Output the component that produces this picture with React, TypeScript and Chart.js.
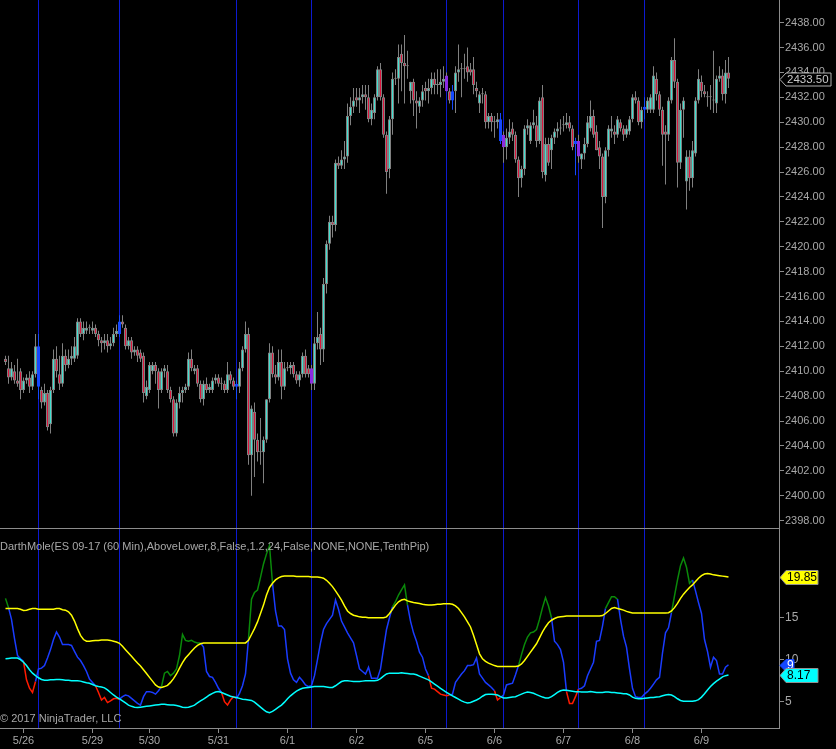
import React, { useEffect, useRef } from 'react';
import { Chart, registerables } from 'chart.js';
Chart.register(...registerables);

// ---------- data ----------
const openP = [
2411.0,2410.25,2409.5,2410.0,2409.25,2410.0,2408.5,2409.25,2409.5,2408.75,
2409.75,2412.0,2408.5,2407.5,2408.25,2405.75,2408.5,2411.0,2409.75,2409.0,
2411.25,2410.5,2411.0,2411.0,2411.25,2414.0,2413.0,2413.25,2413.5,2413.25,
2413.5,2413.0,2412.5,2412.25,2412.5,2412.0,2412.25,2413.0,2413.0,2414.0,
2413.5,2412.0,2412.5,2411.5,2411.75,2411.5,2411.25,2408.0,2408.5,2410.0,
2410.5,2410.0,2408.5,2410.0,2410.0,2408.5,2407.75,2405.0,2407.5,2408.25,
2408.5,2408.75,2411.0,2410.0,2410.25,2409.0,2407.75,2409.0,2408.5,2408.5,
2409.25,2409.5,2409.0,2409.0,2408.5,2409.75,2409.25,2408.75,2408.75,2410.25,
2411.75,2413.0,2403.25,2406.75,2404.5,2403.5,2403.5,2404.5,2407.75,2411.5,
2409.75,2409.5,2410.75,2408.75,2410.25,2410.25,2410.5,2409.75,2409.25,2409.75,
2411.25,2410.25,2410.25,2409.0,2412.25,2413.0,2411.75,2417.0,2420.25,2422.0,
2421.75,2426.75,2426.5,2427.0,2427.25,2430.5,2431.25,2432.0,2431.75,2432.0,
2432.25,2432.0,2430.25,2430.75,2432.0,2434.25,2432.0,2429.0,2426.25,2430.25,
2433.5,2433.5,2435.5,2434.75,2434.5,2432.5,2433.25,2431.75,2431.25,2431.75,
2432.75,2432.5,2432.75,2433.5,2433.0,2433.0,2433.25,2433.75,2432.5,2431.75,
2432.5,2434.0,2434.25,2434.25,2434.5,2434.25,2434.25,2432.75,2431.5,2432.25,
2432.25,2430.0,2430.5,2430.0,2430.0,2430.25,2429.0,2428.0,2428.75,2429.5,
2429.0,2427.0,2425.5,2426.25,2429.5,2428.5,2429.75,2429.75,2428.5,2432.0,
2425.75,2428.25,2427.75,2428.75,2429.25,2429.5,2429.75,2429.75,2430.0,2429.5,
2428.25,2428.5,2427.0,2427.5,2428.25,2429.5,2430.5,2429.25,2428.0,2427.25,
2424.0,2427.75,2429.25,2429.25,2429.0,2430.0,2429.5,2429.0,2429.25,2430.25,
2432.0,2431.75,2430.0,2431.0,2431.0,2431.0,2431.0,2433.5,2432.25,2431.0,
2429.25,2429.0,2431.75,2435.0,2433.25,2426.75,2431.0,2425.25,2427.25,2425.5,
2427.5,2431.75,2433.25,2432.5,2432.0,2432.0,2431.75,2431.5,2433.5,2433.75,
2432.25,2434.0
];
const highP = [
2411.25,2411.25,2410.75,2410.5,2411.0,2410.25,2409.5,2409.75,2410.0,2410.0,
2413.0,2413.0,2408.75,2409.0,2408.5,2408.75,2411.75,2412.0,2411.25,2412.25,
2411.75,2411.75,2412.0,2412.75,2414.25,2414.25,2414.0,2414.0,2413.75,2414.0,
2413.75,2413.25,2412.75,2413.0,2413.0,2412.75,2413.5,2413.75,2414.5,2414.5,
2413.75,2412.75,2412.75,2412.0,2412.0,2411.75,2411.5,2409.25,2410.75,2410.75,
2410.75,2410.25,2410.25,2410.5,2410.5,2408.75,2408.0,2407.75,2408.75,2408.75,
2409.0,2411.5,2411.75,2410.5,2410.5,2409.25,2409.25,2409.5,2409.0,2409.5,
2409.75,2409.75,2409.5,2409.25,2410.75,2410.0,2409.5,2409.25,2410.75,2412.0,
2414.0,2413.5,2407.25,2407.5,2405.0,2406.25,2404.75,2407.75,2412.25,2412.0,
2410.5,2411.75,2411.75,2410.75,2410.75,2410.75,2410.75,2410.0,2410.0,2411.5,
2411.75,2410.5,2410.5,2412.75,2414.75,2413.5,2417.5,2420.5,2422.5,2422.5,
2427.0,2427.25,2427.75,2428.5,2431.5,2432.0,2432.75,2432.75,2432.75,2433.0,
2433.0,2433.0,2431.5,2432.25,2434.5,2434.75,2432.25,2429.25,2430.5,2434.0,
2434.25,2436.25,2436.25,2437.0,2435.75,2433.25,2433.5,2432.5,2432.0,2433.0,
2433.25,2433.5,2434.0,2434.0,2434.25,2434.25,2434.5,2434.0,2432.75,2433.0,
2434.5,2436.25,2434.75,2435.5,2436.0,2434.75,2435.25,2433.25,2432.5,2432.75,
2432.5,2430.75,2430.75,2430.5,2430.75,2430.75,2429.25,2429.5,2430.25,2430.0,
2429.25,2427.25,2426.5,2429.75,2430.25,2430.0,2431.0,2430.5,2432.0,2433.0,
2428.75,2428.75,2429.0,2429.5,2430.0,2430.25,2430.5,2430.75,2430.5,2429.75,
2428.75,2429.0,2427.5,2428.75,2430.5,2431.75,2431.0,2429.75,2428.5,2427.5,
2428.0,2429.75,2430.5,2429.75,2430.5,2430.25,2429.75,2429.75,2430.5,2432.25,
2432.5,2432.0,2431.25,2432.0,2432.0,2432.25,2434.5,2434.0,2432.5,2431.25,
2429.75,2432.0,2435.25,2436.75,2433.5,2431.5,2432.0,2427.75,2427.75,2428.5,
2432.0,2434.25,2433.75,2433.0,2432.5,2433.0,2435.75,2433.75,2434.5,2434.25,
2435.0,2435.25
];
const lowP = [
2410.5,2409.0,2409.25,2409.0,2408.75,2407.75,2408.25,2409.0,2408.25,2408.5,
2409.5,2407.75,2407.0,2407.25,2405.25,2405.0,2408.25,2409.5,2408.5,2408.75,
2410.0,2410.25,2410.5,2410.75,2411.0,2412.75,2412.5,2413.0,2413.0,2413.0,
2412.75,2412.0,2411.5,2411.75,2411.5,2411.75,2412.0,2412.75,2412.75,2413.5,
2411.75,2411.75,2411.0,2411.25,2410.75,2410.75,2407.5,2407.75,2408.25,2409.75,
2409.0,2407.0,2408.25,2409.5,2408.25,2407.5,2404.75,2404.75,2407.0,2407.5,
2408.25,2408.5,2410.0,2409.75,2408.75,2407.5,2407.25,2408.25,2408.25,2408.25,
2409.0,2408.75,2408.5,2408.25,2408.25,2409.0,2408.5,2407.75,2408.25,2410.0,
2411.5,2402.5,2400.0,2401.5,2402.75,2402.5,2401.0,2404.25,2407.5,2409.5,
2409.0,2409.25,2407.75,2408.5,2410.0,2409.75,2409.5,2409.0,2408.75,2409.5,
2409.5,2409.5,2408.5,2408.5,2411.75,2410.5,2410.75,2416.25,2419.75,2420.75,
2421.25,2426.25,2426.25,2426.25,2426.75,2429.75,2430.75,2431.25,2430.75,2431.5,
2431.0,2430.0,2429.75,2430.25,2431.75,2431.75,2428.75,2424.25,2425.5,2429.0,
2433.0,2431.5,2432.5,2431.5,2433.5,2431.5,2430.5,2429.5,2430.75,2431.25,
2431.75,2431.5,2432.25,2432.25,2432.25,2432.0,2432.75,2432.5,2431.5,2431.0,
2430.75,2433.25,2432.0,2433.5,2433.25,2433.75,2432.25,2432.0,2430.75,2431.5,
2429.5,2429.5,2429.25,2428.75,2429.5,2428.25,2426.75,2427.0,2428.25,2428.5,
2426.75,2424.0,2424.75,2425.75,2429.0,2428.25,2429.5,2428.0,2428.25,2425.5,
2425.25,2426.5,2426.25,2428.25,2428.75,2429.0,2429.25,2429.5,2429.25,2427.75,
2425.75,2426.75,2426.25,2427.0,2428.0,2429.25,2428.75,2427.75,2426.25,2421.5,
2423.5,2427.25,2428.75,2428.25,2428.75,2429.25,2428.5,2428.75,2429.0,2430.0,
2431.5,2429.75,2429.5,2430.25,2430.75,2430.75,2430.75,2431.75,2430.5,2426.5,
2425.0,2428.5,2431.5,2432.75,2424.75,2426.25,2428.75,2423.0,2424.5,2424.75,
2427.25,2431.5,2432.0,2432.0,2431.25,2431.0,2430.75,2430.75,2433.25,2431.75,
2431.5,2432.75
];
const closeP = [
2410.75,2409.5,2410.25,2409.25,2409.0,2408.5,2409.25,2409.5,2408.75,2409.75,
2412.0,2408.75,2407.5,2408.25,2405.5,2408.5,2411.0,2410.0,2409.0,2411.25,
2410.5,2411.0,2411.25,2412.0,2414.0,2413.0,2413.5,2413.5,2413.5,2413.5,
2413.0,2412.5,2412.25,2412.5,2412.0,2412.25,2413.0,2413.25,2414.0,2413.75,
2412.0,2412.5,2411.5,2411.75,2411.25,2411.0,2408.25,2408.75,2410.5,2410.5,
2410.0,2408.5,2410.0,2410.25,2408.5,2407.75,2405.0,2407.5,2408.25,2408.5,
2408.75,2411.0,2410.25,2410.25,2409.0,2407.75,2409.0,2408.5,2408.75,2409.25,
2409.5,2409.0,2409.0,2408.5,2409.75,2409.25,2408.75,2409.0,2410.25,2411.75,
2413.0,2403.25,2407.0,2404.5,2403.5,2403.5,2404.5,2407.75,2411.5,2409.75,
2409.5,2410.75,2408.75,2410.25,2410.25,2410.5,2409.75,2409.25,2409.75,2411.25,
2409.75,2409.75,2409.0,2412.25,2412.75,2411.75,2417.0,2420.25,2422.0,2421.75,
2426.75,2426.5,2427.0,2427.25,2430.5,2431.25,2431.75,2431.75,2432.0,2432.25,
2432.0,2430.25,2431.0,2432.0,2434.25,2432.0,2429.0,2426.0,2430.25,2433.5,
2433.5,2435.25,2434.75,2434.5,2434.5,2433.25,2431.75,2431.5,2431.75,2432.5,
2432.5,2432.75,2433.5,2433.0,2433.0,2433.25,2433.5,2432.5,2431.75,2432.5,
2434.0,2434.25,2434.25,2434.25,2434.0,2434.0,2433.0,2432.5,2432.25,2432.25,
2430.0,2430.5,2430.0,2430.0,2430.25,2428.5,2428.0,2428.75,2429.25,2429.0,
2427.0,2425.5,2426.25,2429.5,2429.75,2429.75,2430.0,2428.5,2431.75,2426.0,
2428.25,2426.75,2428.75,2429.25,2429.5,2429.5,2429.75,2430.0,2429.5,2428.0,
2428.5,2427.25,2427.5,2428.25,2430.0,2430.5,2429.0,2427.75,2427.25,2424.0,
2427.75,2429.5,2429.5,2429.0,2430.25,2429.5,2429.0,2429.5,2430.25,2432.0,
2431.75,2430.0,2431.0,2431.25,2431.75,2432.0,2433.75,2432.25,2431.0,2429.0,
2429.0,2431.75,2435.0,2433.25,2426.75,2431.0,2431.75,2427.25,2425.5,2427.75,
2431.75,2433.5,2432.5,2432.25,2432.0,2432.0,2431.75,2433.5,2433.75,2432.25,
2434.0,2433.5
];
const blueBars = [11, 38, 77, 149, 165, 190, 213];
const purpleBars = [102, 147, 166, 191];
const signalLines = [11, 38, 77, 102, 147, 166, 191, 213];

const dayStarts = [6, 29, 48, 71, 94, 117, 140, 163, 186, 209, 232];
const dayLabels = ['5/26', '5/29', '5/30', '5/31', '6/1', '6/2', '6/5', '6/6', '6/7', '6/8', '6/9'];
const priceTicks = [2398, 2400, 2402, 2404, 2406, 2408, 2410, 2412, 2414, 2416, 2418, 2420, 2422, 2424, 2426, 2428, 2430, 2432, 2434, 2436, 2438];
const indTicks = [5, 10, 15];

const upperBand = [
16.1,16.1,16.1,16.1,16.1,16.0,15.85,15.9,16.0,16.1,
16.1,16.0,16.0,16.0,16.0,16.0,16.0,16.1,16.1,15.95,
15.9,15.7,15.3,14.6,13.7,12.9,12.4,12.2,12.2,12.25,
12.3,12.3,12.35,12.35,12.35,12.3,12.2,12.1,11.95,11.6,
11.2,10.8,10.4,10.0,9.6,9.25,8.8,8.35,7.9,7.45,
7.0,6.75,6.7,6.8,6.95,7.3,7.75,8.3,9.0,9.65,
10.2,10.6,11.0,11.4,11.7,11.9,12.0,12.0,12.0,12.0,
12.0,12.0,12.0,12.0,12.0,12.0,12.0,12.0,12.0,12.0,
12.0,12.3,13.0,13.7,14.5,15.5,16.5,17.7,18.6,19.1,
19.5,19.75,19.9,19.95,19.95,19.95,19.95,19.9,19.9,19.9,
19.9,19.9,19.85,19.85,19.85,19.8,19.7,19.45,19.1,18.7,
18.2,17.65,17.1,16.4,15.8,15.5,15.3,15.2,15.1,15.05,
15.05,15.0,15.0,15.0,15.0,15.0,15.0,15.1,15.5,16.0,
16.5,16.9,17.1,17.2,17.0,16.9,16.8,16.75,16.7,16.6,
16.55,16.5,16.5,16.55,16.6,16.6,16.65,16.65,16.65,16.6,
16.4,16.1,15.6,15.1,14.5,13.9,12.9,11.8,10.7,10.1,
9.8,9.6,9.45,9.3,9.2,9.2,9.2,9.2,9.2,9.2,
9.2,9.25,9.5,9.9,10.4,10.9,11.4,11.9,12.6,13.3,
13.9,14.4,14.7,14.9,15.05,15.1,15.15,15.2,15.2,15.2,
15.2,15.2,15.2,15.2,15.2,15.2,15.2,15.2,15.2,15.25,
15.5,15.8,16.1,16.2,16.1,16.0,15.9,15.75,15.65,15.55,
15.55,15.55,15.55,15.55,15.55,15.55,15.55,15.55,15.55,15.55,
15.55,15.6,15.8,16.2,16.7,17.3,17.8,18.2,18.6,18.9,
19.3,19.7,20.0,20.2,20.25,20.2,20.1,20.05,20.0,19.95,
19.9,19.85
];
const lowerBand = [
10.1,10.15,10.2,10.2,10.2,10.0,9.7,9.3,8.8,8.4,
8.1,7.85,7.65,7.55,7.55,7.6,7.6,7.65,7.65,7.6,
7.55,7.55,7.5,7.5,7.5,7.45,7.35,7.25,7.2,7.05,
6.9,6.8,6.75,6.65,6.4,6.1,5.8,5.55,5.35,5.1,
4.85,4.6,4.45,4.35,4.3,4.35,4.4,4.45,4.5,4.55,
4.6,4.65,4.7,4.7,4.65,4.6,4.6,4.55,4.45,4.35,
4.3,4.35,4.45,4.6,4.85,5.1,5.3,5.55,5.8,6.0,
6.15,6.2,6.1,5.95,5.8,5.65,5.55,5.5,5.4,5.3,
5.25,5.2,5.15,4.95,4.65,4.35,4.05,3.8,3.7,3.85,
4.1,4.35,4.6,4.95,5.35,5.7,6.0,6.25,6.45,6.6,
6.65,6.7,6.75,6.8,6.8,6.8,6.8,6.75,6.7,6.7,
6.9,7.15,7.4,7.5,7.5,7.45,7.4,7.4,7.4,7.45,
7.5,7.5,7.5,7.5,7.55,7.75,8.05,8.3,8.4,8.4,
8.4,8.4,8.45,8.4,8.35,8.3,8.3,8.2,8.05,7.9,
7.75,7.6,7.35,7.1,6.85,6.6,6.35,6.1,5.9,5.7,
5.5,5.3,5.1,4.95,4.85,4.9,5.05,5.2,5.4,5.65,
5.85,5.9,5.9,5.85,5.8,5.6,5.45,5.45,5.5,5.55,
5.6,5.75,5.9,6.05,6.15,6.1,6.0,5.85,5.7,5.55,
5.45,5.45,5.6,5.85,6.1,6.3,6.4,6.35,6.3,6.25,
6.2,6.2,6.15,6.15,6.15,6.2,6.15,6.1,6.1,6.1,
6.15,6.15,6.1,6.1,6.05,6.0,5.95,5.95,5.8,5.55,
5.4,5.35,5.35,5.4,5.45,5.5,5.5,5.55,5.6,5.7,
5.8,5.85,5.8,5.6,5.35,5.15,5.05,5.05,5.05,5.05,
5.1,5.25,5.55,5.95,6.4,6.8,7.15,7.45,7.7,7.95,
8.1,8.17
];
const moleLine = [
17.3,16.2,14.8,12.5,10.5,10.1,9.8,7.6,6.6,6.1,
7.4,8.9,9.0,9.3,10.2,11.2,12.4,13.3,12.7,11.8,
11.8,11.8,11.7,11.0,10.3,9.9,9.3,8.6,7.7,7.3,
6.9,6.1,5.2,5.5,4.9,5.1,5.35,5.4,5.3,5.6,
5.8,5.7,5.4,5.1,4.8,4.6,5.6,6.2,6.2,6.1,
5.9,6.3,6.8,8.4,8.6,8.1,8.4,8.9,10.5,13.0,
12.3,12.2,12.3,12.1,12.0,12.0,11.5,8.6,8.0,7.9,
7.3,6.6,6.1,5.0,4.6,5.2,5.6,5.4,6.0,6.9,
8.3,12.5,17.2,18.0,18.3,19.8,21.4,22.6,23.6,19.1,
15.8,14.0,14.0,13.6,10.1,8.4,7.6,7.3,7.9,7.5,
7.0,6.8,6.9,8.1,10.0,12.0,13.6,14.3,14.8,15.3,
17.1,16.0,14.6,13.9,13.2,12.6,12.0,10.5,8.9,8.6,
8.3,9.1,7.8,7.8,7.8,8.9,11.3,13.6,15.0,16.3,
16.9,17.7,18.3,18.9,16.5,14.6,13.2,12.2,10.9,10.3,
8.9,8.1,6.6,6.5,6.2,5.9,5.8,5.7,5.8,5.9,
7.3,7.8,8.3,8.7,9.3,9.3,9.4,10.2,8.3,7.8,
7.3,7.0,6.7,6.3,5.2,5.5,5.8,7.0,7.1,7.2,
8.2,9.3,10.6,11.8,12.7,13.2,13.3,13.6,14.8,16.2,
17.4,16.4,15.0,12.2,11.8,11.2,9.7,6.2,4.8,4.8,
5.6,6.5,6.6,6.9,8.1,8.9,9.7,12.2,12.3,14.0,
16.1,16.8,17.5,17.5,17.2,14.8,12.8,11.5,8.9,6.6,
5.6,5.5,5.5,5.9,6.2,6.6,7.1,7.6,7.9,10.8,
13.2,13.8,15.6,17.6,19.5,21.2,22.1,21.0,19.1,19.5,
18.2,16.8,15.5,12.4,11.0,9.1,10.3,9.9,8.3,8.3,
9.1,9.4
];

const indicatorTitle = 'DarthMole(ES 09-17 (60 Min),AboveLower,8,False,1.2,24,False,NONE,NONE,TenthPip)';
const copyright = '\u00A9 2017 NinjaTrader, LLC';

// ---------- styling ----------
const W = 836;
const H = 749;
const AXIS_W = 57;
const XAXIS_H = 21;
const BAR_STEP = 3;
const X_MIN = -1.5 - 1 / 3;
const X_MAX = X_MIN + (W - AXIS_W) / BAR_STEP;
const FONT = '"Liberation Sans", Arial, sans-serif';
const TXT = '#a8a8a8';
const LINE = '#8c8c8c';
const UP = '#40E0D0';
const DOWN = '#DC143C';
const EDGE = '#808080';
const BLUE = '#1448ff';
const PURPLE = '#8a2be2';
const SIG = '#0d1ad0';

function tag(ctx: CanvasRenderingContext2D, x: number, y: number, w: number, h: number, fill: string, stroke: string, text: string, color: string, size: number) {
  ctx.save();
  const yc = Math.round(y) + 0.5;
  ctx.beginPath();
  ctx.moveTo(x, yc);
  ctx.lineTo(x + 6, yc - h / 2);
  ctx.lineTo(x + w, yc - h / 2);
  ctx.lineTo(x + w, yc + h / 2);
  ctx.lineTo(x + 6, yc + h / 2);
  ctx.closePath();
  ctx.fillStyle = fill;
  ctx.fill();
  ctx.lineWidth = 1;
  ctx.strokeStyle = stroke;
  ctx.stroke();
  ctx.clip();
  ctx.fillStyle = color;
  ctx.font = `${size}px ${FONT}`;
  ctx.textBaseline = 'middle';
  ctx.textAlign = 'left';
  ctx.fillText(text, x + 7, yc + 0.5);
  ctx.restore();
}

const overlay = {
  id: 'overlay',
  beforeDraw(chart: any) {
    const ctx = chart.ctx;
    ctx.save();
    ctx.fillStyle = '#000';
    ctx.fillRect(0, 0, chart.width, chart.height);
    ctx.restore();
  },
  beforeDatasetsDraw(chart: any) {
    const ctx = chart.ctx;
    const xs = chart.scales.x;
    const ca = chart.chartArea;
    ctx.save();
    ctx.fillStyle = SIG;
    for (const idx of signalLines) {
      const px = Math.floor(xs.getPixelForValue(idx) + 0.01);
      ctx.fillRect(px, ca.top, 1, ca.bottom - ca.top);
    }
    const sep = Math.round(chart.scales.y.bottom) - 1;
    ctx.fillStyle = LINE;
    ctx.fillRect(0, sep, ca.right, 1);
    ctx.restore();
  },
  afterDraw(chart: any) {
    const ctx = chart.ctx;
    const ys = chart.scales.y;
    const y2 = chart.scales.y2;
    const ax = ys.left + 1;
    ctx.save();
    ctx.fillStyle = TXT;
    ctx.font = `11px ${FONT}`;
    ctx.textBaseline = 'middle';
    ctx.textAlign = 'left';
    ctx.fillText(indicatorTitle, 0, y2.top + 18);
    ctx.fillText(copyright, 0, y2.bottom - 9);
    ctx.restore();

    const last = closeP.length - 1;
    tag(ctx, ax, ys.getPixelForValue(closeP[last]), 51, 13, '#000', '#b0b0b0', closeP[last].toFixed(2), '#c8c8c8', 11.5);
    const n = moleLine.length - 1;
    tag(ctx, ax, y2.getPixelForValue(moleLine[n]), 14, 12, BLUE, BLUE, moleLine[n].toFixed(2), '#ffffff', 12);
    tag(ctx, ax, y2.getPixelForValue(upperBand[n]), 38, 14, '#ffff00', '#909090', upperBand[n].toFixed(2), '#000', 12);
    tag(ctx, ax, y2.getPixelForValue(lowerBand[n]), 38, 14, '#00ffff', '#909090', lowerBand[n].toFixed(2), '#000', 12);
  },
};

export default function App() {
  const ref = useRef<HTMLCanvasElement | null>(null);
  useEffect(() => {
    document.body.style.margin = '0';
    document.body.style.background = '#000';
    const canvas = ref.current;
    if (!canvas) return;
    const idx = closeP.map((_, i) => i);
    const fills = closeP.map((c, i) =>
      blueBars.includes(i) ? BLUE : purpleBars.includes(i) ? PURPLE : c >= openP[i] ? UP : DOWN);
    const edges = closeP.map((_, i) => (blueBars.includes(i) ? BLUE : purpleBars.includes(i) ? PURPLE : EDGE));
    const wickCol = closeP.map((_, i) => (blueBars.includes(i) ? BLUE : EDGE));

    const tickFont = { family: FONT, size: 11 };
    const yAxisFit = (s: any) => {
      s.width = AXIS_W;
      s.paddingTop = 0;
      s.paddingBottom = 0;
    };

    const chart = new Chart(canvas, {
      type: 'bar',
      data: {
        labels: idx,
        datasets: [
          {
            type: 'line',
            data: upperBand,
            yAxisID: 'y2',
            borderColor: '#ffff00',
            borderWidth: 1.5,
            pointRadius: 0,
            tension: 0,
          } as any,
          {
            type: 'line',
            data: lowerBand,
            yAxisID: 'y2',
            borderColor: '#00ffff',
            borderWidth: 1.5,
            pointRadius: 0,
            tension: 0,
          } as any,
          {
            type: 'line',
            data: moleLine,
            yAxisID: 'y2',
            borderColor: '#1a3cff',
            borderWidth: 1.5,
            pointRadius: 0,
            tension: 0,
            segment: {
              borderColor: (c: any) => {
                const a = c.p0DataIndex, b = c.p1DataIndex;
                const m = (moleLine[a] + moleLine[b]) / 2;
                if (m > (upperBand[a] + upperBand[b]) / 2) return '#0a8a0a';
                if (m < (lowerBand[a] + lowerBand[b]) / 2) return '#ff1a00';
                return undefined;
              },
            },
          } as any,
          {
            type: 'bar',
            data: openP.map((o, i) => [Math.min(o, closeP[i]), Math.max(o, closeP[i])]),
            yAxisID: 'y',
            backgroundColor: fills,
            borderColor: edges,
            borderWidth: 1,
            borderSkipped: false,
            barThickness: 3,
            minBarLength: 1,
            grouped: false,
            inflateAmount: 0,
          } as any,
          {
            type: 'bar',
            data: lowP.map((l, i) => [l, highP[i]]),
            yAxisID: 'y',
            backgroundColor: wickCol,
            borderWidth: 0,
            barThickness: 1,
            grouped: false,
            inflateAmount: 0,
          } as any,
        ],
      },
      options: {
        animation: false,
        responsive: false,
        maintainAspectRatio: false,
        devicePixelRatio: 1,
        events: [],
        layout: { padding: 0 },
        plugins: { legend: { display: false }, tooltip: { enabled: false } },
        scales: {
          x: {
            type: 'linear',
            min: X_MIN,
            max: X_MAX,
            offset: false,
            grid: { display: true, drawOnChartArea: false, drawTicks: true, tickLength: 5, color: LINE, offset: false },
            border: { display: true, color: LINE },
            afterBuildTicks: (s: any) => {
              s.ticks = dayStarts.map((v) => ({ value: v }));
            },
            afterFit: (s: any) => {
              s.height = XAXIS_H;
              s.paddingLeft = 0;
              s.paddingRight = 0;
            },
            ticks: {
              autoSkip: false,
              maxRotation: 0,
              padding: 1,
              color: TXT,
              font: tickFont,
              callback: (v: any) => {
                const k = dayStarts.indexOf(Number(v));
                return k >= 0 ? dayLabels[k] : '';
              },
            },
          },
          y: {
            type: 'linear',
            position: 'right',
            stack: 'panes',
            stackWeight: 529,
            min: 2397.33,
            max: 2439.82,
            beginAtZero: false,
            grid: { drawOnChartArea: false, tickLength: 5, color: LINE },
            border: { display: true, color: LINE },
            afterBuildTicks: (s: any) => {
              s.ticks = priceTicks.map((v) => ({ value: v }));
            },
            afterFit: yAxisFit,
            ticks: {
              autoSkip: false,
              padding: 1,
              color: TXT,
              font: tickFont,
              callback: (v: any) => Number(v).toFixed(2),
            },
          },
          y2: {
            type: 'linear',
            position: 'right',
            stack: 'panes',
            stackWeight: 199,
            min: 1.87,
            max: 25.56,
            beginAtZero: false,
            grid: { drawOnChartArea: false, tickLength: 5, color: LINE },
            border: { display: true, color: LINE },
            afterBuildTicks: (s: any) => {
              s.ticks = indTicks.map((v) => ({ value: v }));
            },
            afterFit: yAxisFit,
            ticks: {
              autoSkip: false,
              padding: 1,
              color: TXT,
              font: { family: FONT, size: 12 },
              callback: (v: any) => String(v),
            },
          },
        },
      } as any,
      plugins: [overlay],
    });
    return () => chart.destroy();
  }, []);

  return (
    <div style={{ width: W, height: H, background: '#000' }}>
      <canvas ref={ref} width={W} height={H} style={{ display: 'block', width: W, height: H }} />
    </div>
  );
}
